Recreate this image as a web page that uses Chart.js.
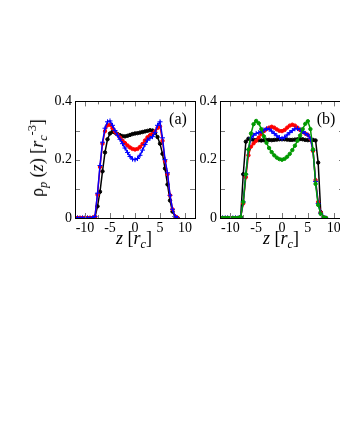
<!DOCTYPE html>
<html lang="en">
<head>
<meta charset="UTF-8" />
<title>Density profiles</title>
<style>
  html, body { margin: 0; padding: 0; background: #fff; }
  body {
    width: 340px; height: 440px; overflow: hidden; position: relative;
    font-family: "Liberation Serif", "Times New Roman", "DejaVu Serif", serif;
  }
  canvas { position: absolute; }
  #chartA { left: 40px; top: 90px; }
  #chartB { left: 185px; top: 90px; }
  .txt { position: absolute; color: #000; white-space: nowrap; line-height: 1; transform: translate(-50%, -50%); }
  .ytitle { left: 37px; top: 158px; font-size: 18px; transform: translate(-50%, -50%) rotate(-90deg); }
  .xtitle { top: 238px; font-size: 18px; }
  .panel { top: 119px; font-size: 16px; }
  sub, sup { font-size: 68%; line-height: 0; position: relative; vertical-align: baseline; }
  sub { top: 0.35em; }
  sup { top: -0.55em; }
</style>
</head>
<body>
<canvas id="chartA" width="160" height="150"></canvas>
<canvas id="chartB" width="164" height="150"></canvas>

<div class="txt ytitle">&rho;<sub><i>p</i></sub> (<i>z</i>) [<i>r</i><sub><i>c</i></sub><sup>-3</sup>]</div>
<div class="txt xtitle" style="left:134px"><i>z</i> [<i>r</i><sub><i>c</i></sub>]</div>
<div class="txt xtitle" style="left:281px"><i>z</i> [<i>r</i><sub><i>c</i></sub>]</div>
<div class="txt panel" style="left:178px">(a)</div>
<div class="txt panel" style="left:326px">(b)</div>

<script src="https://cdn.jsdelivr.net/npm/chart.js"></script>
<script>
  // positions along z, same grid for both panels
  const z = [-12, -11.5, -11, -10.5, -10, -9.5, -9, -8.5, -8, -7.5, -7, -6.5, -6, -5.5, -5, -4.5,
    -4, -3.5, -3, -2.5, -2, -1.5, -1, -0.5, 0, 0.5, 1, 1.5, 2, 2.5, 3, 3.5, 4, 4.5, 5, 5.5,
    6, 6.5, 7, 7.5, 8, 8.5];

  // panel (a)
  const blackA = [0, 0, 0, 0, 0, 0, 0, 0, 0.003, 0.04, 0.09, 0.16, 0.225, 0.27, 0.29, 0.296,
    0.293, 0.288, 0.284, 0.281, 0.28, 0.282, 0.285, 0.288, 0.29, 0.291, 0.293, 0.295, 0.297, 0.299, 0.301, 0.3,
    0.292, 0.278, 0.255, 0.22, 0.17, 0.115, 0.06, 0.022, 0.004, 0];
  const redA = [0, 0, 0, 0, 0, 0, 0, 0, 0.005, 0.08, 0.175, 0.255, 0.298, 0.318, 0.32, 0.308,
    0.296, 0.286, 0.276, 0.266, 0.257, 0.249, 0.242, 0.237, 0.235, 0.237, 0.244, 0.254, 0.266, 0.277, 0.284, 0.289,
    0.297, 0.309, 0.314, 0.265, 0.195, 0.15, 0.078, 0.03, 0.006, 0];
  const blueA = [0, 0, 0, 0, 0, 0, 0, 0, 0.005, 0.085, 0.18, 0.26, 0.308, 0.33, 0.333, 0.318,
    0.3, 0.284, 0.27, 0.255, 0.24, 0.225, 0.211, 0.202, 0.2, 0.204, 0.215, 0.233, 0.252, 0.267, 0.274, 0.279,
    0.293, 0.318, 0.33, 0.275, 0.2, 0.155, 0.078, 0.03, 0.005, 0];

  // panel (b)
  const blackB = [0, 0, 0, 0, 0, 0, 0, 0, 0.002, 0.15, 0.262, 0.272, 0.27, 0.268, 0.267, 0.267,
    0.266, 0.267, 0.268, 0.268, 0.267, 0.268, 0.269, 0.27, 0.27, 0.27, 0.269, 0.268, 0.268, 0.269, 0.27, 0.271,
    0.27, 0.268, 0.267, 0.268, 0.268, 0.266, 0.19, 0.02, 0.002, 0];
  const redB = [0, 0, 0, 0, 0, 0, 0, 0, 0.003, 0.05, 0.14, 0.215, 0.245, 0.256, 0.265, 0.276,
    0.288, 0.298, 0.305, 0.31, 0.313, 0.31, 0.304, 0.299, 0.298, 0.302, 0.31, 0.317, 0.32, 0.317, 0.31, 0.302,
    0.295, 0.29, 0.285, 0.272, 0.23, 0.13, 0.055, 0.018, 0.003, 0];
  const blueB = [0, 0, 0, 0, 0, 0, 0, 0, 0.003, 0.055, 0.15, 0.235, 0.275, 0.284, 0.29, 0.293,
    0.297, 0.302, 0.306, 0.305, 0.298, 0.29, 0.282, 0.276, 0.273, 0.277, 0.285, 0.293, 0.3, 0.306, 0.307, 0.303,
    0.297, 0.29, 0.285, 0.272, 0.232, 0.125, 0.05, 0.016, 0.003, 0];
  const greenB = [0, 0, 0, 0, 0, 0, 0, 0, 0.004, 0.055, 0.15, 0.235, 0.29, 0.322, 0.333, 0.325,
    0.305, 0.28, 0.258, 0.24, 0.226, 0.215, 0.207, 0.202, 0.2, 0.203, 0.21, 0.22, 0.233, 0.248, 0.265, 0.283,
    0.305, 0.323, 0.332, 0.305, 0.235, 0.117, 0.045, 0.014, 0.003, 0];

  // axis ticks
  const xLabels = [-10, -5, 0, 5, 10];
  const xMarks = [-10, -7.5, -5, -2.5, 0, 2.5, 5, 7.5, 10];
  const yLabels = [0, 0.2, 0.4];
  const yMarks = [0.1, 0.2, 0.3];

  const tickFont = { family: "'Liberation Serif', 'Times New Roman', serif", size: 14 };

  // frame on all four sides with inward tick marks, like the original plot
  const frameTicks = {
    id: "frameTicks",
    afterDatasetsDraw(chart) {
      const { ctx, chartArea: a, scales } = chart;
      ctx.save();
      ctx.strokeStyle = "#777";
      ctx.lineWidth = 1;
      ctx.beginPath();
      xMarks.forEach((v) => {
        const px = Math.round(scales.x.getPixelForValue(v)) + 0.5;
        const len = v % 5 === 0 ? 5 : 3;
        ctx.moveTo(px, a.bottom); ctx.lineTo(px, a.bottom - len);
        ctx.moveTo(px, a.top); ctx.lineTo(px, a.top + len);
      });
      yMarks.forEach((v) => {
        const py = Math.round(scales.y.getPixelForValue(v)) + 0.5;
        ctx.moveTo(a.left, py); ctx.lineTo(a.left + 5, py);
        ctx.moveTo(a.right, py); ctx.lineTo(a.right - 5, py);
      });
      ctx.stroke();
      ctx.strokeStyle = "#000";
      ctx.strokeRect(Math.round(a.left) + 0.5, Math.round(a.top) + 0.5,
        Math.round(a.right - a.left), Math.round(a.bottom - a.top));
      ctx.restore();
    },
  };

  function series(values, color, style, order) {
    return {
      data: z.map((x, i) => ({ x: x, y: values[i] })),
      borderColor: color,
      backgroundColor: color,
      borderWidth: 1.5,
      pointStyle: style,
      pointRadius: style === "cross" ? 2.5 : 1.7,
      pointBorderWidth: 1,
      order: order,
    };
  }

  function makeChart(id, datasets, padRight) {
    return new Chart(document.getElementById(id), {
      type: "line",
      data: { datasets: datasets },
      plugins: [frameTicks],
      options: {
        responsive: false,
        animation: false,
        layout: { padding: { top: 9, right: padRight, left: 0, bottom: 0 } },
        plugins: { legend: { display: false }, tooltip: { enabled: false } },
        scales: {
          x: {
            type: "linear",
            min: -12,
            max: 12,
            grid: { display: false, drawTicks: false },
            border: { display: false },
            ticks: { font: tickFont, color: "#000", padding: 2, maxRotation: 0 },
            afterBuildTicks: (s) => { s.ticks = xLabels.map((v) => ({ value: v })); },
            afterFit: (s) => { s.height = 22; },
          },
          y: {
            min: 0,
            max: 0.4,
            grid: { display: false, drawTicks: false },
            border: { display: false },
            ticks: { font: tickFont, color: "#000", padding: 3, callback: (v) => String(v) },
            afterBuildTicks: (s) => { s.ticks = yLabels.map((v) => ({ value: v })); },
            afterFit: (s) => { s.width = 35; },
          },
        },
      },
    });
  }

  makeChart("chartA", [
    series(blackA, "#000000", "circle", 3),
    series(redA, "#ff0000", "circle", 2),
    series(blueA, "#0000ff", "cross", 1),
  ], 5);

  makeChart("chartB", [
    series(blackB, "#000000", "circle", 4),
    series(redB, "#ff0000", "circle", 3),
    series(blueB, "#0000ff", "cross", 2),
    series(greenB, "#009900", "circle", 1),
  ], 4);
</script>
</body>
</html>
